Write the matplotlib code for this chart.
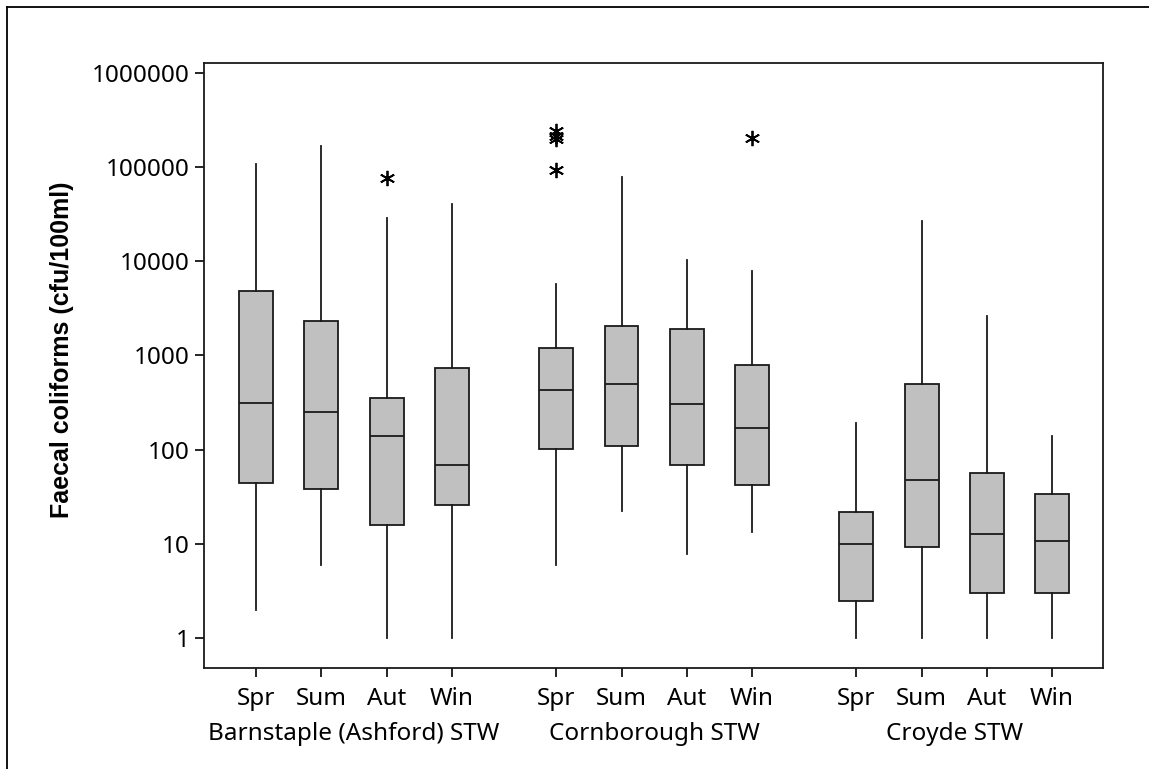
import numpy as np
import matplotlib
matplotlib.use("Agg")
import matplotlib.pyplot as plt
from matplotlib.lines import Line2D

plt.rcParams['font.family'] = ['Noto Sans', 'DejaVu Sans']

sites = ["Barnstaple (Ashford) STW", "Cornborough STW", "Croyde STW"]
seasons = ["Spr", "Sum", "Aut", "Win"]

# per box: lower whisker, Q1, median, Q3, upper whisker (cfu/100ml)
whislo = [2, 6, 1, 1,
          6, 22.5, 7.8, 13.4,
          1, 1, 1, 1]
q1 = [44.5, 38, 16, 25.6,
      101, 109, 68.6, 42.4,
      2.45, 9.3, 3.0, 3.0]
med = [312, 249, 138, 68,
       432, 501, 303, 169,
       10, 48, 12.7, 10.8]
q3 = [4830, 2320, 353, 740,
      1190, 2070, 1890, 797,
      21.9, 501, 56, 33.5]
whishi = [108000, 167000, 28500, 40500,
          5730, 78900, 10300, 7870,
          190, 26500, 2640, 139]
fliers = [[], [], [76000], [],
          [240000, 215000, 200000, 94000], [], [], [205000],
          [], [], [], []]

group_gap = 1.6
positions = []
for g in range(len(sites)):
    for s in range(len(seasons)):
        positions.append(g * (len(seasons) - 1 + group_gap) + s)

stats = []
for i in range(len(med)):
    stats.append(dict(whislo=whislo[i], q1=q1[i], med=med[i], q3=q3[i],
                      whishi=whishi[i], fliers=fliers[i]))

fig = plt.figure(figsize=(11.49, 7.69), dpi=100)
ax = fig.add_axes([204 / 1149, 101 / 769, 899 / 1149, 605 / 769])

lw = 1.3
ax.bxp(stats, positions=positions, widths=0.52, patch_artist=True,
       showcaps=False,
       boxprops=dict(facecolor="#c0c0c0", edgecolor="#1a1a1a", linewidth=lw),
       medianprops=dict(color="#1a1a1a", linewidth=lw),
       whiskerprops=dict(color="#1a1a1a", linewidth=lw),
       flierprops=dict(marker=(6, 2, 0), markersize=11, markeredgecolor="black",
                       markeredgewidth=1.3, linestyle="none"))

ax.set_yscale("log")
ax.set_ylim(0.48, 1.27e6)
ax.set_xlim(positions[0] - 0.8, positions[-1] + 0.78)

yt = [1, 10, 100, 1000, 10000, 100000, 1000000]
ax.set_yticks(yt)
ax.set_yticklabels([str(v) for v in yt])
ax.yaxis.set_minor_locator(matplotlib.ticker.NullLocator())
ax.set_xticks(positions)
ax.set_xticklabels(seasons * len(sites))

ax.tick_params(axis="both", direction="out", length=6.5, width=1.2,
               labelsize=17.5, colors="black", pad=4)
ax.tick_params(axis="x", pad=7)
for sp in ax.spines.values():
    sp.set_linewidth(1.3)
    sp.set_color("#1a1a1a")

for g, name in enumerate(sites):
    xc = np.mean(positions[g * 4:(g + 1) * 4])
    ax.annotate(name, xy=(xc, 0), xycoords=("data", "axes fraction"),
                xytext=(0, -47.5), textcoords="offset points",
                ha="center", va="center", fontsize=17.5)

ax.set_ylabel("Faecal coliforms (cfu/100ml)", fontsize=18, fontweight="bold",
              family=["Liberation Sans", "DejaVu Sans"])
ax.yaxis.set_label_coords(-0.145, 0.526)

# outer frame lines (left and top)
fig.add_artist(Line2D([7 / 1149, 7 / 1149], [0, 1 - 7 / 769],
                      transform=fig.transFigure, color="black", lw=1.3))
fig.add_artist(Line2D([7 / 1149, 1], [1 - 7 / 769, 1 - 7 / 769],
                      transform=fig.transFigure, color="black", lw=1.3))

fig.savefig("out.png", dpi=100)
